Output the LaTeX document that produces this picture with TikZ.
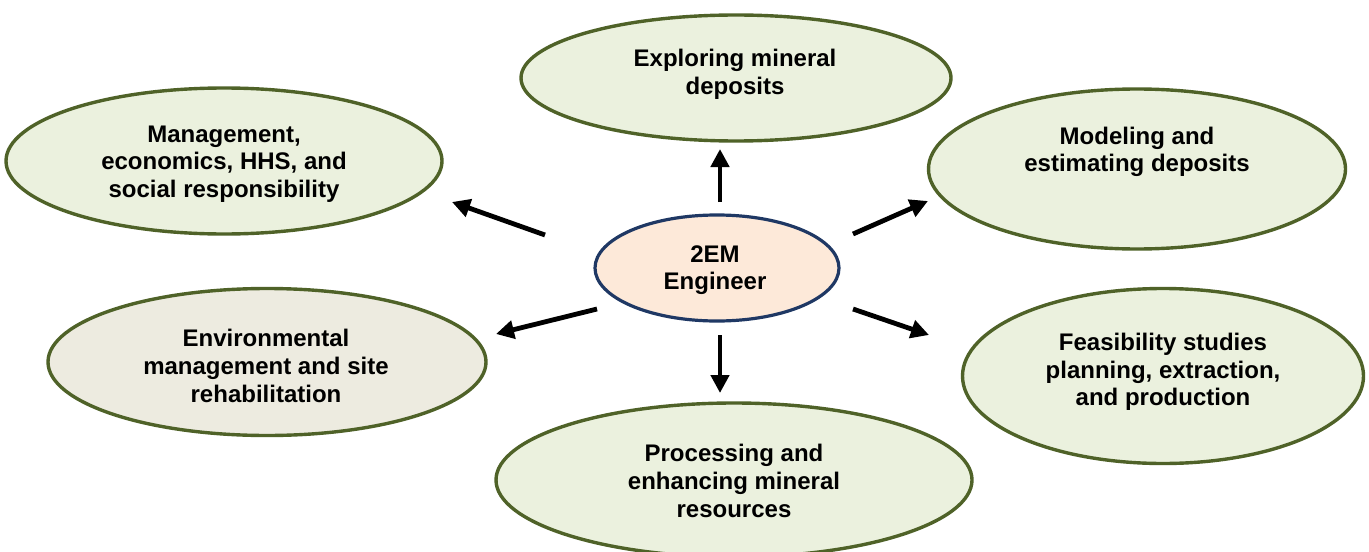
\documentclass[tikz,border=0pt]{standalone}
\usepackage{fontspec}
\setmainfont{Liberation Sans}
\usetikzlibrary{shapes.geometric,arrows.meta}

\definecolor{leaf}{HTML}{EBF1DE}
\definecolor{olive}{HTML}{4F6228}
\definecolor{sand}{HTML}{EDEBE0}
\definecolor{peach}{HTML}{FDE9D9}
\definecolor{navy}{HTML}{1F3864}

\tikzset{
  bubble/.style={ellipse, draw=olive, fill=leaf, line width=1.7pt, inner sep=0pt},
  hubshape/.style={ellipse, draw=navy, fill=peach, line width=1.6pt, inner sep=0pt},
  caption/.style={align=center, inner sep=0pt, font=\fontsize{12}{13.8}\selectfont\bfseries},
  spoke/.style={line width=2.4pt, -{Triangle[length=9pt,width=9pt]}}
}

\begin{document}
\begin{tikzpicture}[x=0.5pt, y=-0.5pt]
  \clip (0,0) rectangle (1369,551);
  \useasboundingbox (0,0) rectangle (1369,551);

  % outer topics
  \node[bubble, minimum width=215pt, minimum height=63pt] (explore) at (736,78) {};
  \node[caption] (explore-t) at (735,74) {Exploring mineral\\deposits};

  \node[bubble, minimum width=218pt, minimum height=73pt] (manage) at (224,161) {};
  \node[caption] (manage-t) at (224,164) {Management,\\economics, HHS, and\\social responsibility};

  \node[bubble, minimum width=208.5pt, minimum height=80pt] (model) at (1137,169) {};
  \node[caption] (model-t) at (1137,152) {Modeling and\\estimating deposits};

  \node[bubble, minimum width=200.5pt, minimum height=87.5pt] (feas) at (1163,376) {};
  \node[caption] (feas-t) at (1163,372) {Feasibility studies\\planning, extraction,\\and production};

  \node[bubble, minimum width=238pt, minimum height=77pt] (process) at (734,480) {};
  \node[caption] (process-t) at (734,481) {Processing and\\enhancing mineral\\resources};

  \node[bubble, fill=sand, minimum width=219pt, minimum height=73.5pt] (environ) at (267,362) {};
  \node[caption] (environ-t) at (266,366) {Environmental\\management and site\\rehabilitation};

  % central role
  \node[hubshape, minimum width=122pt, minimum height=53pt] (hub) at (717,268) {};
  \node[caption] (hub-t) at (715,270) {2EM\\Engineer};

  % arrow ends
  \coordinate (up-a) at (720,202);   \coordinate (up-b) at (720,149);
  \coordinate (ul-a) at (545,235);   \coordinate (ul-b) at (452,202);
  \coordinate (ur-a) at (853,234);   \coordinate (ur-b) at (928,201);
  \coordinate (ll-a) at (597,309);   \coordinate (ll-b) at (496,334);
  \coordinate (lr-a) at (853,309);   \coordinate (lr-b) at (929,335);
  \coordinate (dn-a) at (720,335);   \coordinate (dn-b) at (720,393);

  \draw[spoke] (up-a) -- (up-b);
  \draw[spoke] (ul-a) -- (ul-b);
  \draw[spoke] (ur-a) -- (ur-b);
  \draw[spoke] (ll-a) -- (ll-b);
  \draw[spoke] (lr-a) -- (lr-b);
  \draw[spoke] (dn-a) -- (dn-b);
\end{tikzpicture}
\end{document}
